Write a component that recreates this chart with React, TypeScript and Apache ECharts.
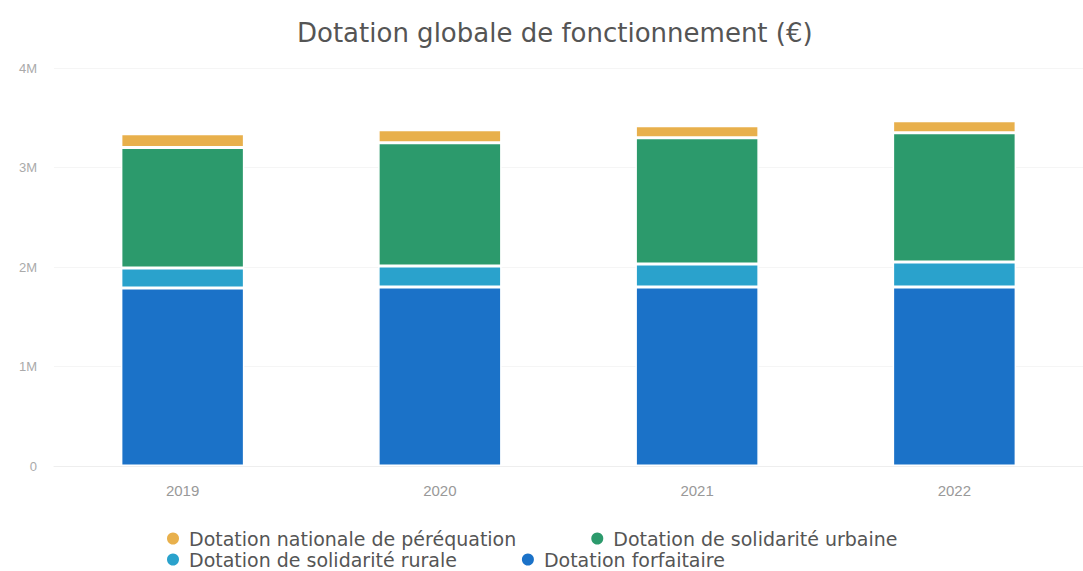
import React, { useEffect, useRef } from "react";
import * as echarts from "echarts";

const years = ["2019", "2020", "2021", "2022"];
const forfaitaire = [1790000, 1800000, 1800000, 1800000];
const rurale = [200000, 210000, 230000, 250000];
const urbaine = [1210000, 1240000, 1270000, 1300000];
const perequation = [140000, 130000, 120000, 120000];
const yTicks = [0, 1000000, 2000000, 3000000, 4000000];

const names = {
  per: "Dotation nationale de péréquation",
  urb: "Dotation de solidarité urbaine",
  rur: "Dotation de solidarité rurale",
  forf: "Dotation forfaitaire",
};

const colors = {
  forf: "#1b72c8",
  rur: "#2aa2cc",
  urb: "#2c9a6c",
  per: "#e8b04c",
};

export default function App() {
  const ref = useRef<HTMLDivElement>(null);
  useEffect(() => {
    if (!ref.current) return;
    const chart = echarts.init(ref.current, undefined, { renderer: "svg" });
    const mk = (name: string, data: number[], color: string) => ({
      name,
      type: "bar",
      stack: "total",
      data,
      barWidth: "48%",
      itemStyle: { color, borderColor: "#ffffff", borderWidth: 1.5 },
    });
    const legendText = {
      fontSize: 19,
      lineHeight: 19,
      color: "#555",
      fontFamily: "DejaVu Sans",
    };
    chart.setOption({
      animation: false,
      title: {
        text: "Dotation globale de fonctionnement (€)",
        left: 292,
        top: 15,
        textStyle: {
          fontSize: 26,
          fontWeight: "normal",
          color: "#555",
          fontFamily: "DejaVu Sans",
        },
      },
      legend: [
        {
          data: [names.per, names.urb],
          left: 165,
          top: 529,
          padding: 0,
          icon: "circle",
          itemWidth: 22,
          itemHeight: 14,
          itemGap: 73,
          textStyle: legendText,
        },
        {
          data: [names.rur, names.forf],
          left: 165,
          top: 550,
          padding: 0,
          icon: "circle",
          itemWidth: 22,
          itemHeight: 14,
          itemGap: 63,
          textStyle: legendText,
        },
      ],
      grid: { left: 54, right: -8, top: 68, bottom: 105 },
      xAxis: {
        type: "category",
        data: years,
        axisLine: { show: true, lineStyle: { color: "#eeeeee" } },
        axisTick: { show: false },
        axisLabel: { color: "#999", fontSize: 15, margin: 17 },
      },
      yAxis: {
        type: "value",
        min: yTicks[0],
        max: yTicks[yTicks.length - 1],
        interval: yTicks[1] - yTicks[0],
        axisLabel: {
          color: "#aaa",
          fontSize: 13,
          margin: 17,
          formatter: (v: number) => (v === 0 ? "0" : v / 1000000 + "M"),
        },
        splitLine: { lineStyle: { color: "#f5f5f5" } },
      },
      series: [
        mk(names.forf, forfaitaire, colors.forf),
        mk(names.rur, rurale, colors.rur),
        mk(names.urb, urbaine, colors.urb),
        mk(names.per, perequation, colors.per),
      ],
    });
    return () => chart.dispose();
  }, []);
  return (
    <div
      ref={ref}
      style={{ position: "fixed", left: 0, top: 0, width: 1083, height: 571, background: "#fff" }}
    />
  );
}
